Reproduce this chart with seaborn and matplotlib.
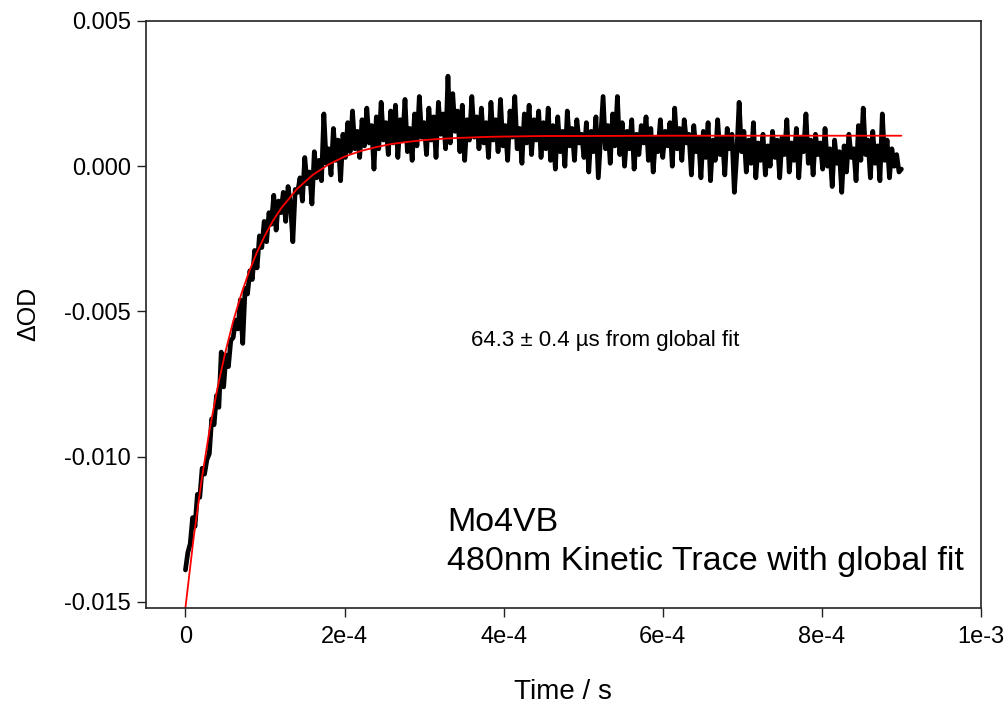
import numpy as np
import pandas as pd
import matplotlib
matplotlib.use("Agg")
import matplotlib.pyplot as plt
import seaborn as sns

# ---- data ----
# kinetic trace at 480 nm, time in microseconds, dOD in milli-OD
trace_t_us = list(range(0, 901, 3))
trace_mod = [
    -13.9, -13.3, -13.0, -12.1, -12.4, -11.3, -11.4, -10.4, -10.6, -10.1,
    -9.9, -8.7, -8.9, -7.9, -8.3, -6.4, -7.6, -6.5, -6.9, -6.0,
    -5.9, -5.3, -5.6, -4.6, -6.1, -4.2, -4.4, -3.6, -3.9, -2.9,
    -3.5, -2.4, -2.8, -1.9, -2.6, -1.6, -2.0, -1.0, -2.2, -1.2,
    -1.6, -0.9, -1.9, -0.7, -1.3, -2.6, -0.8, -0.9, -0.4, -1.2,
    0.3, -0.6, -0.2, -1.3, 0.5, -0.4, 0.2, -0.5, 1.8, 0.1,
    0.6, -0.3, 1.3, 0.2, 0.9, -0.5, 1.1, 0.3, 1.5, 0.5,
    1.9, 0.6, 1.2, 0.3, 1.6, 0.7, 2.0, 0.8, 1.4, -0.1,
    1.7, 0.6, 2.2, 0.9, 1.5, 0.4, 1.9, 0.8, 2.1, 0.3,
    1.6, 0.9, 2.3, 0.5, 1.3, 0.2, 1.8, 0.7, 2.4, 1.0,
    1.5, 0.4, 2.0, 0.9, 1.7, 0.3, 2.2, 1.1, 1.8, 0.6,
    3.1, 0.8, 2.5, 1.2, 1.9, 0.5, 2.1, 0.2, 1.6, 0.9,
    2.4, 1.0, 1.7, 0.6, 2.0, 0.8, 1.5, 0.3, 2.2, 0.9,
    1.6, 0.5, 2.3, 0.7, 1.4, 0.2, 1.9, 1.0, 2.4, 0.6,
    1.3, 0.1, 1.8, 0.8, 2.1, 0.4, 1.6, 0.9, 1.9, 0.3,
    1.5, 0.6, 2.0, 0.2, 1.4, -0.1, 1.7, 0.5, 1.2, 0.0,
    1.9, 0.7, 1.3, 0.2, 1.6, 0.8, 1.1, 0.3, 1.5, -0.2,
    1.2, 0.5, 1.7, -0.4, 1.0, 2.4, 0.6, 1.4, 0.1, 1.8,
    0.7, 2.4, 0.4, 1.5, 0.0, 1.2, 0.6, 1.6, -0.1, 1.1,
    0.4, 1.4, 0.8, 1.7, 0.2, 1.3, -0.2, 1.0, 0.5, 1.6,
    0.3, 1.2, 0.7, 1.5, 0.0, 2.0, 0.6, 1.3, 0.2, 1.6,
    0.8, 1.1, -0.3, 1.4, 0.5, 1.0, -0.4, 1.2, 0.3, 1.5,
    -0.5, 0.9, 0.2, 1.6, 0.4, 1.0, -0.3, 1.3, 0.6, 1.1,
    -0.9, 0.4, 2.2, 0.5, 1.2, -0.2, 0.9, 0.1, 1.5, -0.4,
    0.8, 0.2, 1.1, -0.3, 0.7, 0.0, 1.2, 0.3, 0.9, -0.4,
    1.0, 0.4, 1.6, -0.2, 0.8, 0.2, 1.3, -0.4, 1.0, 0.5,
    1.8, 0.1, 0.9, -0.3, 1.1, 0.4, 0.8, -0.1, 1.3, 0.0,
    0.6, -0.7, 0.9, 0.1, 0.5, -0.9, 0.7, -0.2, 1.1, 0.3,
    0.6, -0.5, 1.4, 0.2, 2.0, 0.4, 0.9, -0.4, 1.2, 0.1,
    0.7, -0.5, 1.8, 0.2, 0.9, -0.4, 0.6, 0.0, 0.4, -0.2,
    -0.1,
]

# global fit curve, time in microseconds, dOD in milli-OD
fit_t_us = [0, 10, 20, 30, 40, 50, 60, 70, 80, 90, 100, 110, 120, 140, 160,
            180, 200, 220, 240, 260, 280, 300, 320, 340, 360, 380, 400, 450,
            500, 600, 700, 800, 900]
fit_mod = [-15.20, -12.86, -10.86, -9.13, -7.67, -6.42, -5.34, -4.42, -3.63,
           -2.96, -2.38, -1.88, -1.46, -0.79, -0.30, 0.06, 0.33, 0.52, 0.66,
           0.77, 0.84, 0.90, 0.94, 0.97, 0.99, 1.01, 1.02, 1.04, 1.04, 1.05,
           1.05, 1.05, 1.05]

x_ticks = [0, 2e-4, 4e-4, 6e-4, 8e-4, 1e-3]
x_tick_labels = ["0", "2e-4", "4e-4", "6e-4", "8e-4", "1e-3"]
y_ticks = [-0.015, -0.010, -0.005, 0.000, 0.005]
y_tick_labels = ["-0.015", "-0.010", "-0.005", "0.000", "0.005"]

trace_df = pd.DataFrame({"t": np.array(trace_t_us) * 1e-6,
                         "od": np.array(trace_mod) * 1e-3})
fit_df = pd.DataFrame({"t": np.array(fit_t_us) * 1e-6,
                       "od": np.array(fit_mod) * 1e-3})

# ---- plot ----
sns.set_theme(style="white")
plt.rcParams["font.family"] = ["Liberation Sans", "DejaVu Sans"]

fig = plt.figure(figsize=(10.06, 7.04), dpi=100)
ax = fig.add_axes([0.1448, 0.1368, 0.8303, 0.8334])

sns.lineplot(data=trace_df, x="t", y="od", ax=ax, color="black", lw=3.4,
             estimator=None, sort=False)
sns.lineplot(data=fit_df, x="t", y="od", ax=ax, color="#ff0000", lw=1.3,
             estimator=None, sort=False)

ax.set_xlim(-5e-5, 1e-3)
ax.set_ylim(-0.0152, 0.005)
ax.set_xticks(x_ticks)
ax.set_xticklabels(x_tick_labels)
ax.set_yticks(y_ticks)
ax.set_yticklabels(y_tick_labels)
ax.tick_params(axis="both", which="major", direction="out", length=6.5,
               width=1.0, color="#222222", labelsize=17, pad=4.3,
               labelcolor="black",
               bottom=True, left=True, top=False, right=False)
ax.tick_params(axis="x", pad=7)
for s in ax.spines.values():
    s.set_color("#222222")
    s.set_linewidth(1.2)

ax.set_xlabel("Time / s", fontsize=20, labelpad=22, color="black")
ax.set_ylabel("\u0394OD", fontsize=18, labelpad=17, color="black")

ax.text(3.59e-4, -0.0060, "64.3 \u00b1 0.4 \u00b5s from global fit",
        fontsize=16, va="center", ha="left", color="black")
ax.text(3.29e-4, -0.01228, "Mo4VB", fontsize=24.5, va="center", ha="left",
        color="black")
ax.text(3.29e-4, -0.01362, "480nm Kinetic Trace with global fit",
        fontsize=24.5, va="center", ha="left", color="black")

fig.savefig("out.png", dpi=100)
